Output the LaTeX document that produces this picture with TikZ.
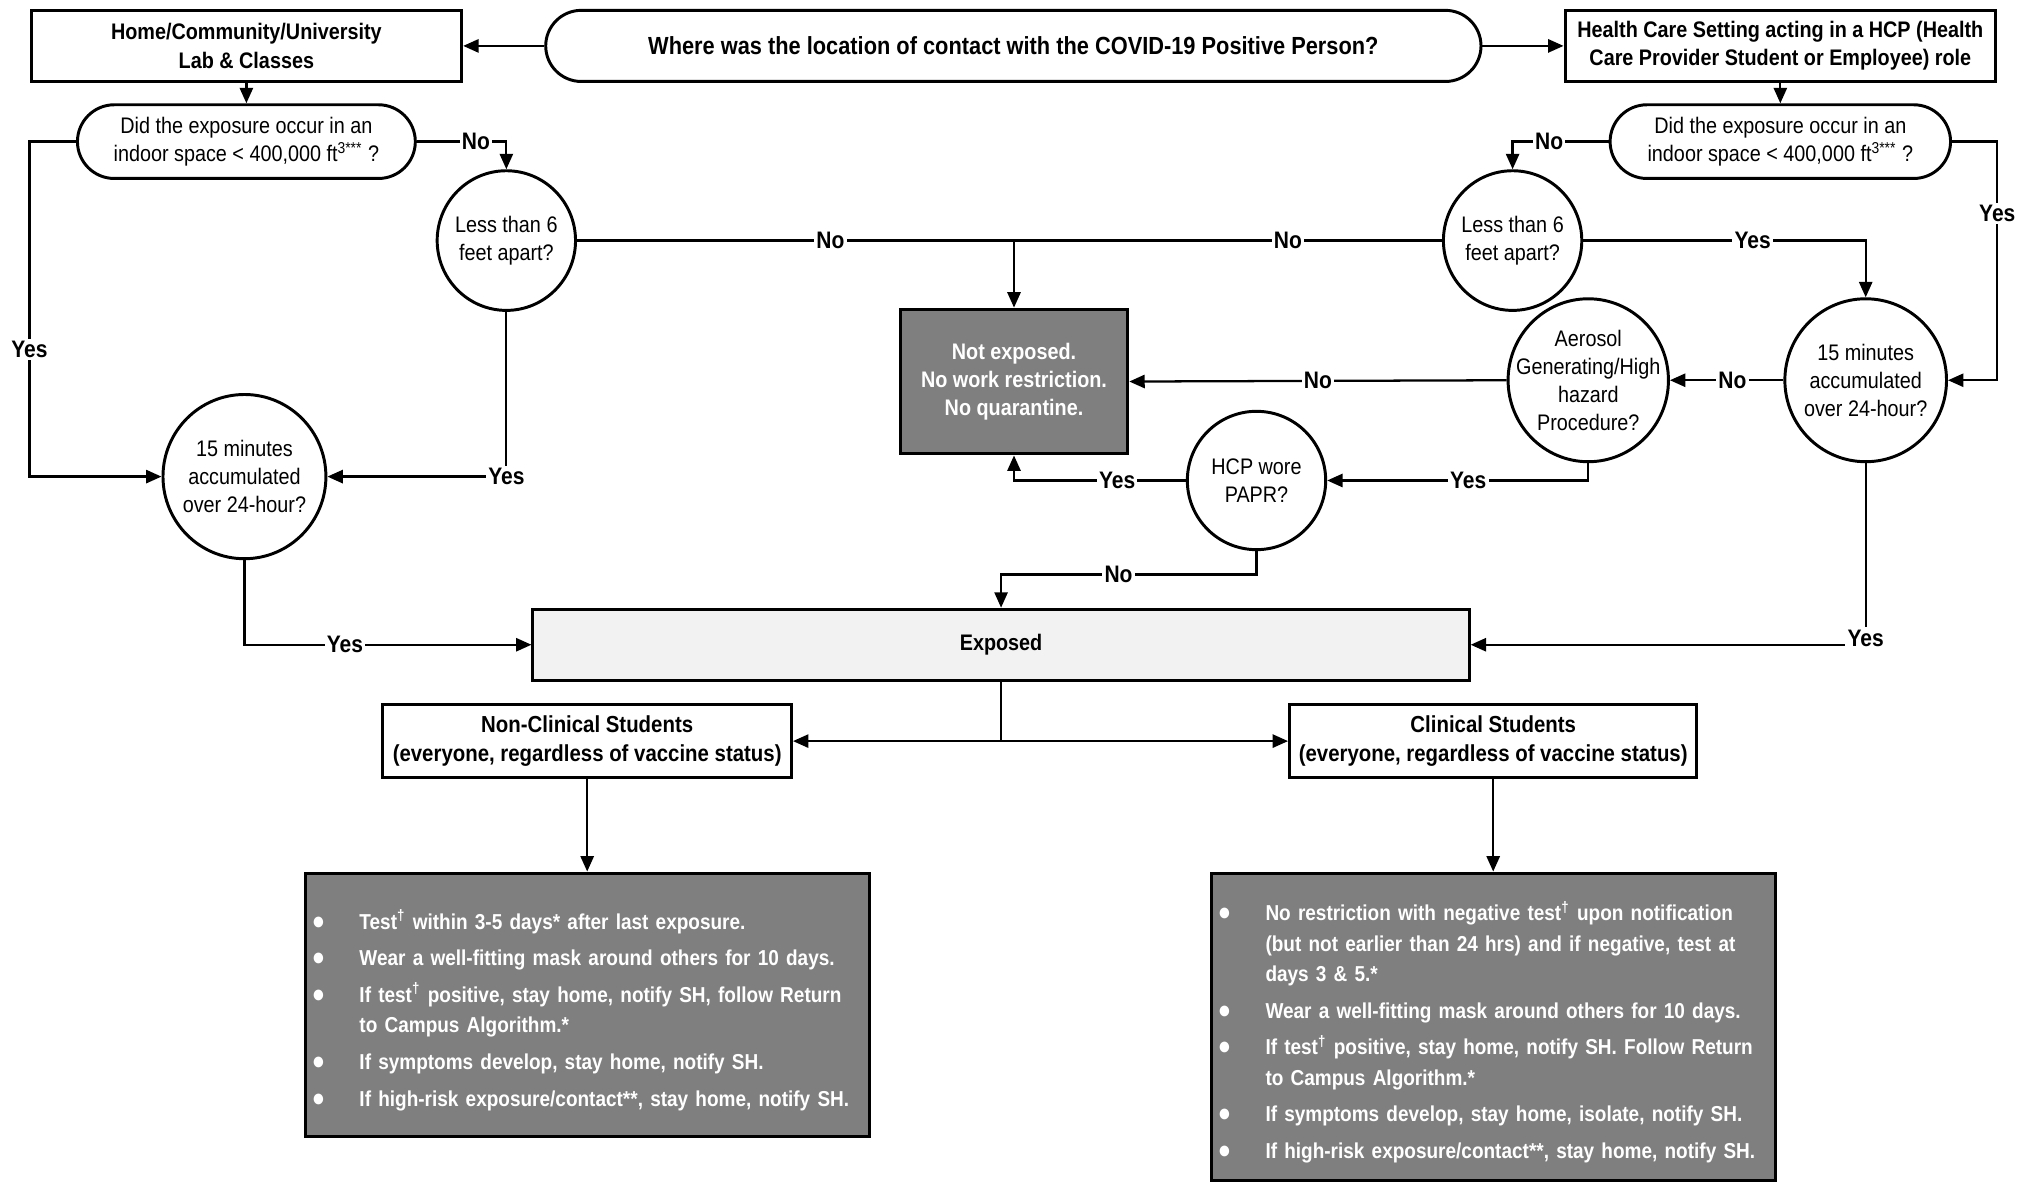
\documentclass[tikz,border=0pt]{standalone}
\usepackage{fontspec}
\setmainfont{Liberation Sans}[FakeStretch=0.88]
\usetikzlibrary{arrows.meta,shapes.geometric,shapes.misc}
\definecolor{darkFill}{HTML}{7F7F7F}
\definecolor{lightFill}{HTML}{F2F2F2}
\newcommand{\bodySize}{\fontsize{9.9}{12.4}\selectfont}
\newcommand{\headSize}{\bfseries\fontsize{9.9}{12.4}\selectfont}
\newenvironment{actionList}{\begin{list}{\fontsize{11}{11}\selectfont ●}{%
  \setlength{\leftmargin}{21pt}\setlength{\labelwidth}{6pt}%
  \setlength{\labelsep}{15pt}\setlength{\itemsep}{2.9pt}%
  \setlength{\parsep}{0pt}\setlength{\topsep}{0pt}\setlength{\partopsep}{0pt}%
  \renewcommand{\makelabel}[1]{\makebox[\labelwidth][l]{##1}}}}%
  {\end{list}}

\begin{document}
\begin{tikzpicture}[x=0.02cm, y=0.02cm,
  flow/.style={line width=1pt, -{Triangle[length=6.8pt,width=5.8pt]}},
  link/.style={line width=1pt},
  lbl/.style={fill=white, inner sep=1pt, font=\bfseries\fontsize{10.5}{12}\selectfont},
  headbox/.style={draw, line width=1.3pt, rectangle, align=center, font=\headSize},
  pill/.style={draw, line width=1.3pt, rounded rectangle, align=center, font=\bodySize},
  question/.style={draw, line width=1.3pt, ellipse, inner sep=0pt},
  qtext/.style={align=center, font=\bodySize},
  darkbox/.style={draw, line width=1.3pt, rectangle, fill=darkFill, text=white, font=\headSize},
  listbox/.style={darkbox, inner xsep=0.1cm, text width=8.52cm, font=\bfseries\fontsize{9.5}{13.3}\selectfont}]
\useasboundingbox (0,0) rectangle (1568,-915);

% top row
\node[pill, font=\bfseries\fontsize{10.9}{12}\selectfont, minimum width=14.7cm, minimum height=1.1cm] (where) at (783.5,-35.5)
  {Where was the location of contact with the COVID-19 Positive Person?};
\node[headbox, minimum width=6.66cm, minimum height=1.1cm] (homeBox) at (190.5,-35.5)
  {Home/Community/University\\Lab \& Classes};
\node[headbox, minimum width=6.66cm, minimum height=1.1cm] (hcpBox) at (1376.5,-35.5)
  {Health Care Setting acting in a HCP (Health\\Care Provider Student or Employee) role};

% questions
\node[pill, minimum width=5.46cm, minimum height=1.14cm] (indoorL) at (190.5,-109.5)
  {Did the exposure occur in an\\indoor space < 400,000 ft\textsuperscript{3***} ?};
\node[pill, minimum width=5.5cm, minimum height=1.14cm] (indoorR) at (1376.5,-109.5)
  {Did the exposure occur in an\\indoor space < 400,000 ft\textsuperscript{3***} ?};
\node[question, minimum width=2.14cm, minimum height=2.16cm,
  label={[qtext]center:{Less than 6\\feet apart?}}] (sixFtL) at (391.5,-186) {};
\node[question, minimum width=2.14cm, minimum height=2.16cm,
  label={[qtext]center:{Less than 6\\feet apart?}}] (sixFtR) at (1169.5,-186) {};
\node[question, minimum width=2.52cm, minimum height=2.54cm,
  label={[qtext]center:{15 minutes\\accumulated\\over 24-hour?}}] (fifteenL) at (189,-368.5) {};
\node[question, minimum width=2.5cm, minimum height=2.52cm,
  label={[qtext]center:{15 minutes\\accumulated\\over 24-hour?}}] (fifteenR) at (1442.5,-294) {};
\node[question, minimum width=2.48cm, minimum height=2.52cm,
  label={[qtext]center:{Aerosol\\Generating/High\\hazard\\Procedure?}}] (aerosol) at (1228,-294) {};
\node[question, minimum width=2.14cm, minimum height=2.14cm,
  label={[qtext]center:{HCP wore\\PAPR?}}] (papr) at (971.5,-371.5) {};

% outcomes
\node[darkbox, align=center, minimum width=3.52cm, minimum height=2.24cm] (notExp) at (784,-295)
  {Not exposed.\\No work restriction.\\No quarantine.};
\node[headbox, fill=lightFill, minimum width=14.48cm, minimum height=1.1cm] (exposed) at (774,-498.5) {Exposed};
\node[headbox, font=\bfseries\fontsize{10.2}{12.4}\selectfont, minimum width=6.32cm, minimum height=1.12cm] (nonClin) at (454,-573)
  {Non-Clinical Students\\(everyone, regardless of vaccine status)};
\node[headbox, font=\bfseries\fontsize{10.2}{12.4}\selectfont, minimum width=6.3cm, minimum height=1.12cm] (clin) at (1154.5,-573)
  {Clinical Students\\(everyone, regardless of vaccine status)};

\node[listbox, minimum height=4.08cm] (ncList) at (454,-777) {\begin{actionList}
  \item Test\textsuperscript{†} within 3-5 days* after last exposure.
  \item Wear a well-fitting mask around others for 10 days.
  \item If test\textsuperscript{†} positive, stay home, notify SH, follow Return\\to Campus Algorithm.*
  \item If symptoms develop, stay home, notify SH.
  \item If high-risk exposure/contact**, stay home, notify SH.
\end{actionList}};
\node[listbox, minimum height=4.76cm] (cList) at (1154.5,-794) {\begin{actionList}
  \item No restriction with negative test\textsuperscript{†} upon notification\\(but not earlier than 24 hrs) and if negative, test at\\days 3 \& 5.*
  \item Wear a well-fitting mask around others for 10 days.
  \item If test\textsuperscript{†} positive, stay home, notify SH. Follow Return\\to Campus Algorithm.*
  \item If symptoms develop, stay home, isolate, notify SH.
  \item If high-risk exposure/contact**, stay home, notify SH.
\end{actionList}};

% connectors
\draw[flow] (where.west) -- (homeBox.east);
\draw[flow] (where.east) -- (hcpBox.west);
\draw[flow] (homeBox.south) -- (indoorL.north);
\draw[flow] (hcpBox.south) -- (indoorR.north);
\draw[flow] (indoorL.east) -| node[lbl, pos=0.33] {No} (sixFtL.north);
\draw[flow] (indoorR.west) -| node[lbl, pos=0.31] {No} (sixFtR.north);
\draw[flow] (indoorR.east) -- ++(35,0) |- node[lbl, pos=0.15] {Yes} (fifteenR.east);
\draw[flow] (indoorL.west) -- ++(-36,0) |- node[lbl, pos=0.31] {Yes} (fifteenL.west);
\draw[flow] (sixFtL.east) -| node[lbl, pos=0.29] {No} (notExp.north);
\draw[link] (sixFtR.west) -- node[lbl, pos=0.36] {No} (notExp.north |- sixFtR.west);
\draw[flow] (sixFtR.east) -| node[lbl, pos=0.3] {Yes} (fifteenR.north);
\draw[flow] (sixFtL.south) |- node[lbl, pos=0.5] {Yes} (fifteenL.east);
\draw[flow] (fifteenR.west) -- node[lbl, pos=0.45] {No} (aerosol.east);
\draw[flow] (aerosol.west) -- node[lbl, pos=0.5] {No} (notExp.east);
\draw[flow] (aerosol.south) |- node[lbl, pos=0.73] {Yes} (papr.east);
\draw[flow] (papr.west) -| node[lbl, pos=0.2] {Yes} (notExp.south);
\draw[flow] (papr.south) -- ++(0,-18) -| node[lbl, pos=0.27] {No} (exposed.north);
\draw[flow] (fifteenL.south) |- node[lbl, pos=0.675] {Yes} (exposed.west);
\draw[flow] (fifteenR.south) |- node[lbl, pos=0.5, yshift=3pt] {Yes} (exposed.east);
\draw[flow] (exposed.south) |- (nonClin.east);
\draw[flow] (exposed.south) |- (clin.west);
\draw[flow] (nonClin.south) -- (ncList.north);
\draw[flow] (clin.south) -- (cList.north);
\end{tikzpicture}
\end{document}
